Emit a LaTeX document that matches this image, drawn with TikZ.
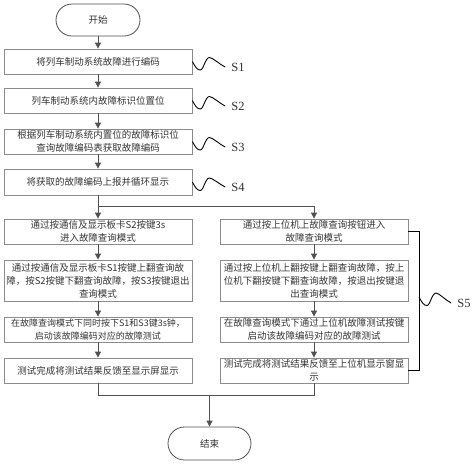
\documentclass[tikz,border=0pt]{standalone}
\usepackage{fontspec}
\setmainfont{Liberation Serif}
\newfontfamily\cjk{Noto Sans CJK SC}
\usetikzlibrary{arrows.meta,calc}
\definecolor{boxgray}{HTML}{8C8C8C}
\definecolor{linecol}{HTML}{505050}
\definecolor{textgray}{HTML}{333333}
\begin{document}
\begin{tikzpicture}[x=1pt,y=-1pt,
  box/.style={draw=boxgray, line width=0.8pt, minimum width=188pt, minimum height=25pt,
    inner sep=1pt, align=center, text=textgray, font=\cjk\fontsize{9.5}{13}\selectfont},
  term/.style={draw=linecol, line width=0.8pt, rounded corners=16pt, minimum width=84pt,
    minimum height=32pt, inner sep=0pt, text=textgray, font=\cjk\fontsize{9.5}{13}\selectfont},
  arr/.style={draw=linecol, line width=0.8pt, -{Triangle[length=6pt,width=6pt]}},
  ln/.style={draw=linecol, line width=0.8pt},
  bracket/.style={draw=black, line width=1pt},
  wave/.style={draw=black, line width=0.9pt},
  slabel/.style={font=\fontsize{12.5}{13}\selectfont, text=textgray, inner ysep=0pt, inner xsep=6pt},
  wavy/.style={to path={.. controls ($(\tikztostart)+(3,6)$) and ($(\tikztostart)+(5,8.5)$) ..
     ($(\tikztostart)+(8,8.5)$) .. controls ($(\tikztostart)+(11,8.5)$) and ($(\tikztostart)+(13,-4)$) ..
     ($(\tikztostart)+(17,-4)$) .. controls ($(\tikztostart)+(20,-4)$) and ($(\tikztotarget)+(-6,-3)$) ..
     (\tikztotarget)}}
]
\useasboundingbox (0,0) rectangle (474,464);

% terminals
\node[term] (start) at (98,20) {开始};
\node[term, minimum width=83pt, minimum height=33pt, rounded corners=16.5pt] (end) at (209.5,443.5) {结束};

% main steps
\node[box] (s1) at (98,61.5) {将列车制动系统故障进行编码};
\node[box] (s2) at (98,100.5) {列车制动系统内故障标识位置位};
\node[box] (s3) at (98,141.5) {根据列车制动系统内置位的故障标识位\\查询故障编码表获取故障编码};
\node[box, minimum height=26pt] (s4) at (98,182) {将获取的故障编码上报并循环显示};

% left column
\node[box] (l1) at (98,231.5) {通过按通信及显示板卡S2按键3s\\进入故障查询模式};
\node[box, minimum height=41pt] (l2) at (98,280.5) {通过按通信及显示板卡S1按键上翻查询故\\障，按S2按键下翻查询故障，按S3按键退出\\查询模式};
\node[box, font=\cjk\fontsize{9}{13}\selectfont] (l3) at (98,329.5) {在故障查询模式下同时按下S1和S3键3s钟，\\启动该故障编码对应的故障测试};
\node[box] (l4) at (98,370.5) {测试完成将测试结果反馈至显示屏显示};

% right column
\node[box] (r1) at (314,231.5) {通过按上位机上故障查询按钮进入\\故障查询模式};
\node[box, minimum height=41pt] (r2) at (314,280.5) {通过按上位机上翻按键上翻查询故障，按上\\位机下翻按键下翻查询故障，按退出按键退\\出查询模式};
\node[box] (r3) at (314,329.5) {在故障查询模式下通过上位机故障测试按键\\启动该故障编码对应的故障测试};
\node[box] (r4) at (314,370.5) {测试完成将测试结果反馈至上位机显示窗显\\示};

% step labels
\node[slabel] (S1l) at (238,67) {S1};
\node[slabel] (S2l) at (238,106) {S2};
\node[slabel] (S3l) at (238,147) {S3};
\node[slabel] (S4l) at (238,187) {S4};
\node[slabel] (S5l) at (464,303) {S5};

% main arrows
\draw[arr] (start) -- (s1);
\draw[arr] (s1) -- (s2);
\draw[arr] (s2) -- (s3);
\draw[arr] (s3) -- (s4);

% split
\coordinate (split) at (98,206);
\draw[ln] (s4.south) -- (split);
\draw[arr] (split) -- (l1.north);
\draw[arr] (split) -| (r1.north);

% columns
\draw[arr] (l1) -- (l2);
\draw[arr] (l2) -- (l3);
\draw[arr] (l3) -- (l4);
\draw[arr] (r1) -- (r2);
\draw[arr] (r2) -- (r3);
\draw[arr] (r3) -- (r4);

% merge
\coordinate (merge) at (209.5,395);
\draw[ln] (l4.south) |- (merge);
\draw[ln] (r4.south) |- (merge);
\draw[arr] (merge) -- (end.north);

% waves
\draw[wave] (s1.east) to[wavy] (S1l.west);
\draw[wave] (s2.east) to[wavy] (S2l.west);
\draw[wave] (s3.east) to[wavy] (S3l.west);
\draw[wave] (s4.east) to[wavy] (S4l.west);

% bracket for S5
\draw[bracket] (r1.east) -- ++(11,0) coordinate (bt) |- (r4.east);
\coordinate (bk) at (419,297);
\draw[wave] (bk) to[wavy] (S5l.west);
\end{tikzpicture}
\end{document}
